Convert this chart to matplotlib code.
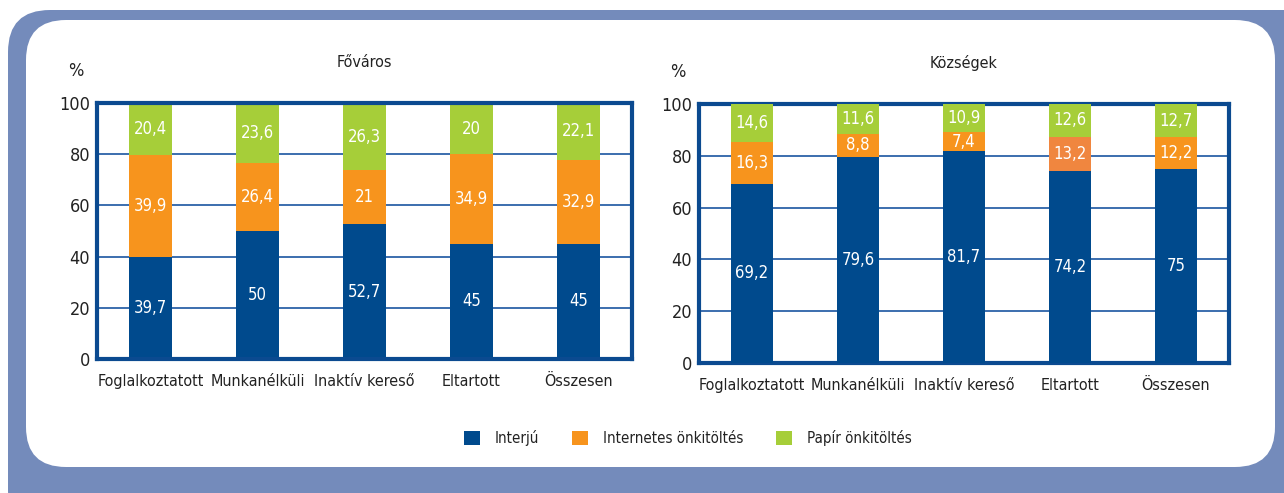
import matplotlib
matplotlib.use("Agg")
import matplotlib.pyplot as plt
from matplotlib import font_manager
from matplotlib.patches import FancyBboxPatch, Patch
from matplotlib.transforms import IdentityTransform
import numpy as np

# ---------------- data ----------------
categories = ["Foglalkoztatott", "Munkanélküli", "Inaktív kereső", "Eltartott", "Összesen"]
series_names = ["Interjú", "Internetes önkitöltés", "Papír önkitöltés"]

fovaros_interju = [39.7, 50, 52.7, 45, 45]
fovaros_internet = [39.9, 26.4, 21, 34.9, 32.9]
fovaros_papir = [20.4, 23.6, 26.3, 20, 22.1]

kozsegek_interju = [69.2, 79.6, 81.7, 74.2, 75]
kozsegek_internet = [16.3, 8.8, 7.4, 13.2, 12.2]
kozsegek_papir = [14.6, 11.6, 10.9, 12.6, 12.7]

titles = ["Főváros", "Községek"]
yticks = [0, 20, 40, 60, 80, 100]

# ---------------- font choice ----------------
cond = [f for f in font_manager.fontManager.ttflist
        if (str(f.stretch) in ("condensed", "semi-condensed", "extra-condensed")
            or "Narrow" in f.name or "Condensed" in f.name)
        and f.style == "normal" and f.weight in (400, "normal", "regular", "book")]
cond.sort(key=lambda f: (0 if "Sans" in f.name else 1, f.name))
if cond:
    FP = font_manager.FontProperties(fname=cond[0].fname)
    SCALE = 1.0
else:
    FP = font_manager.FontProperties(family="Roboto")
    SCALE = 0.85
plt.rcParams["font.family"] = ["DejaVu Sans"]


def T(size):
    p = FP.copy()
    p.set_size(size * SCALE)
    return p


BLUE = "#004A8D"
ORANGE = "#F7941D"
ORANGE_ALT = "#F0863F"
GREEN = "#A6CE39"
FRAME = "#0B4A90"
GRID = "#2C62A8"
BG = "#748BBB"
TXT = "#222222"
colors = [BLUE, ORANGE, GREEN]

W, H = 1284, 493
fig = plt.figure(figsize=(W / 100, H / 100), dpi=100)
fig.patch.set_facecolor("white")

outer = FancyBboxPatch((8, -40), 1320, H - 10 + 40, boxstyle="round,pad=0,rounding_size=42",
                       transform=IdentityTransform(), facecolor=BG, edgecolor="none", zorder=0)
inner = FancyBboxPatch((26, H - 467), 1275 - 26, 467 - 20, boxstyle="round,pad=0,rounding_size=40",
                       transform=IdentityTransform(), facecolor="white", edgecolor="none", zorder=1)
fig.patches.extend([outer, inner])


def fmt(v):
    s = f"{v:.1f}".rstrip("0").rstrip(".")
    return s.replace(".", ",")


def draw(ax, data, title, bars_on_top, seg_colors):
    x = np.arange(len(categories))
    bottom = np.zeros(len(categories))
    for vals, c in zip(data, seg_colors):
        vals = np.array(vals, dtype=float)
        ax.bar(x, vals, bottom=bottom, width=0.4, color=c, edgecolor="none",
               zorder=4 if bars_on_top else 2, clip_on=not bars_on_top)
        for xi, b, v in zip(x, bottom, vals):
            ax.text(xi, b + v / 2, fmt(v), ha="center", va="center", color="white",
                    fontproperties=T(12), zorder=6)
        bottom += vals
    ax.set_xlim(-0.5, len(categories) - 0.5)
    ax.set_ylim(0, 100)
    ax.set_yticks(yticks)
    ax.set_yticklabels([str(t) for t in yticks], fontproperties=T(13), color=TXT)
    ax.set_xticks(x)
    ax.set_xticklabels(categories, fontproperties=T(11.5), color=TXT)
    ax.tick_params(length=0)
    ax.tick_params(axis="y", pad=5)
    ax.tick_params(axis="x", pad=11)
    for y in yticks[1:-1]:
        ax.axhline(y, color=GRID, linewidth=1.3, zorder=1)
    for s in ax.spines.values():
        s.set_color(FRAME)
        s.set_linewidth(3)
        s.set_zorder(3)
    ax.set_facecolor("white")
    ax.set_title(title, fontproperties=T(11.5), color=TXT, pad=26)
    ax.text(-0.04, 1.09, "%", transform=ax.transAxes, fontproperties=T(13), ha="center",
            va="bottom", color=TXT)


ax1 = fig.add_axes([97 / W, (H - 359) / H, 535 / W, 256 / H])
ax2 = fig.add_axes([699 / W, (H - 363) / H, 530 / W, 259 / H])
for a in (ax1, ax2):
    a.set_zorder(2)

draw(ax1, [fovaros_interju, fovaros_internet, fovaros_papir], titles[0], False, colors)
# in the reference the "Eltartott" internet segment of the right panel is a redder orange
right_orange = [ORANGE, ORANGE, ORANGE, ORANGE_ALT, ORANGE]
draw(ax2, [kozsegek_interju, kozsegek_internet, kozsegek_papir], titles[1], True,
     [BLUE, right_orange, GREEN])

handles = [Patch(facecolor=c, edgecolor="none") for c in colors]
leg = fig.legend(handles, series_names, loc="center", bbox_to_anchor=(688 / W, (H - 438) / H),
                 ncol=3, frameon=False, prop=T(10.8), handlelength=1.05, handleheight=1.05,
                 handletextpad=1.0, columnspacing=2.2)
for t in leg.get_texts():
    t.set_color(TXT)

fig.savefig("out.png", dpi=100, facecolor=fig.get_facecolor())
